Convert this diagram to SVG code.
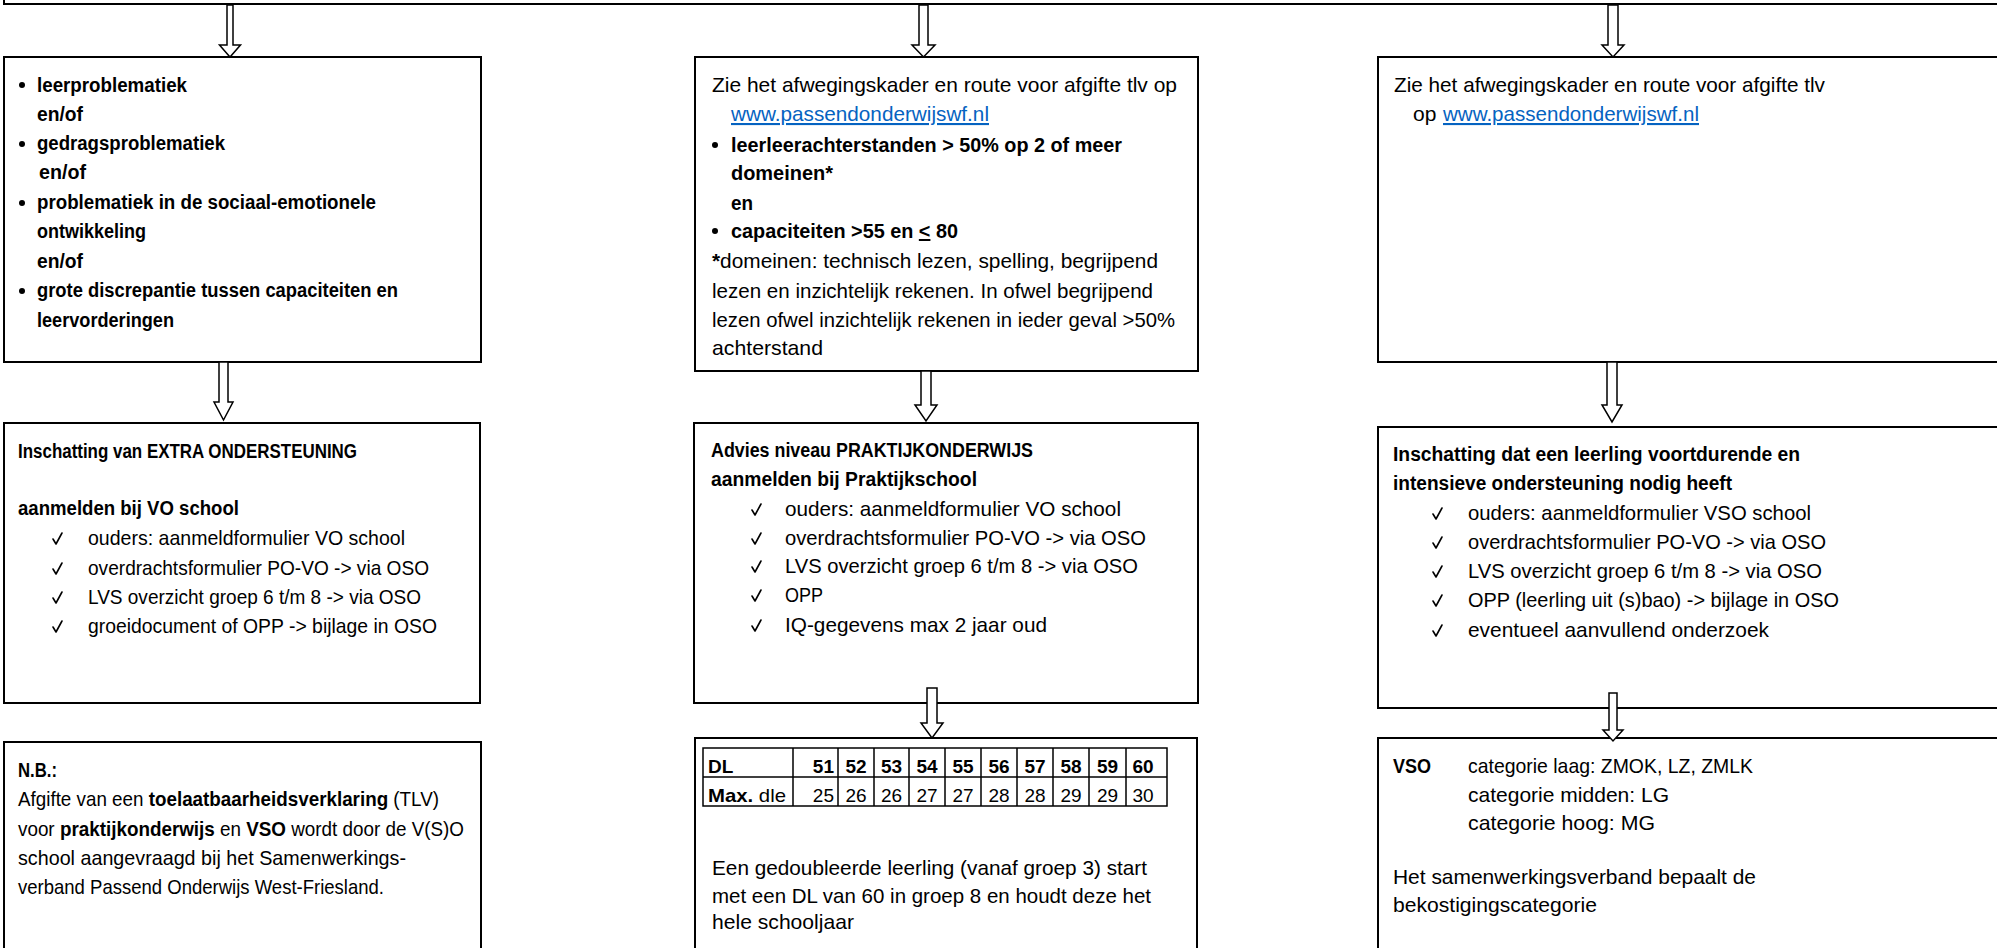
<svg xmlns="http://www.w3.org/2000/svg" width="1997" height="948" viewBox="0 0 1997 948">
<style>
.box{fill:#fff;stroke:#000;stroke-width:2}
.arr{fill:#fff;stroke:#000;stroke-width:1.5;stroke-linejoin:miter}
text{font-family:"Liberation Sans",Arial,sans-serif;fill:#000}
.r{font-size:21px}
.b{font-size:20px;font-weight:bold}
.bt{font-weight:bold}
.chk{fill:none;stroke:#000;stroke-width:1.6;stroke-linecap:round;stroke-linejoin:round}
.lnk{fill:#0563C1;text-decoration:underline}
.tbl{fill:none;stroke:#000;stroke-width:1.5}
.num{font-size:19px}
</style>
<defs>
<path id="ck" class="chk" d="M0 -6 L3 -1 L9 -12"/>
</defs>
<rect width="1997" height="948" fill="#fff"/>
<g id="top-box"><rect class="box" x="4" y="-20" width="2010" height="24"/></g>

<g id="box1">
<rect class="box" x="4" y="57" width="477" height="305"/>
<circle cx="22" cy="85" r="3"/><circle cx="22" cy="144" r="3"/><circle cx="22" cy="203" r="3"/><circle cx="22" cy="291" r="3"/>
<text class="b" x="37" y="92" textLength="150" lengthAdjust="spacingAndGlyphs">leerproblematiek</text>
<text class="b" x="37" y="121" textLength="46" lengthAdjust="spacingAndGlyphs">en/of</text>
<text class="b" x="37" y="150" textLength="188" lengthAdjust="spacingAndGlyphs">gedragsproblematiek</text>
<text class="b" x="39" y="179" textLength="47" lengthAdjust="spacingAndGlyphs">en/of</text>
<text class="b" x="37" y="209" textLength="339" lengthAdjust="spacingAndGlyphs">problematiek in de sociaal-emotionele</text>
<text class="b" x="37" y="238" textLength="109" lengthAdjust="spacingAndGlyphs">ontwikkeling</text>
<text class="b" x="37" y="268" textLength="46" lengthAdjust="spacingAndGlyphs">en/of</text>
<text class="b" x="37" y="297" textLength="361" lengthAdjust="spacingAndGlyphs">grote discrepantie tussen capaciteiten en</text>
<text class="b" x="37" y="327" textLength="137" lengthAdjust="spacingAndGlyphs">leervorderingen</text>
</g>

<g id="box2">
<rect class="box" x="695" y="57" width="503" height="314"/>
<circle cx="715" cy="145" r="3"/><circle cx="715" cy="231" r="3"/>
<text class="r" x="712" y="92" textLength="465" lengthAdjust="spacingAndGlyphs">Zie het afwegingskader en route voor afgifte tlv op</text>
<text class="r lnk" x="731" y="121" textLength="258" lengthAdjust="spacingAndGlyphs">www.passendonderwijswf.nl</text>
<text class="b" x="731" y="152" textLength="391" lengthAdjust="spacingAndGlyphs">leerleerachterstanden  &gt; 50% op 2 of meer</text>
<text class="b" x="731" y="180" textLength="102" lengthAdjust="spacingAndGlyphs">domeinen*</text>
<text class="b" x="731" y="210" textLength="22" lengthAdjust="spacingAndGlyphs">en</text>
<text class="b" x="731" y="238" textLength="227" lengthAdjust="spacingAndGlyphs">capaciteiten &gt;55 en <tspan text-decoration="underline">&lt;</tspan> 80</text>
<text class="r" x="712" y="268" textLength="446" lengthAdjust="spacingAndGlyphs"><tspan class="bt">*</tspan>domeinen: technisch lezen, spelling, begrijpend</text>
<text class="r" x="712" y="298" textLength="441" lengthAdjust="spacingAndGlyphs">lezen en inzichtelijk rekenen. In ofwel begrijpend</text>
<text class="r" x="712" y="327" textLength="463" lengthAdjust="spacingAndGlyphs">lezen ofwel inzichtelijk rekenen in ieder geval &gt;50%</text>
<text class="r" x="712" y="355" textLength="111" lengthAdjust="spacingAndGlyphs">achterstand</text>
</g>

<g id="box3">
<rect class="box" x="1378" y="57" width="700" height="305"/>
<text class="r" x="1394" y="92" textLength="431" lengthAdjust="spacingAndGlyphs">Zie het afwegingskader en route voor afgifte tlv</text>
<text class="r" x="1413" y="121">op</text>
<text class="r lnk" x="1443" y="121" textLength="256" lengthAdjust="spacingAndGlyphs">www.passendonderwijswf.nl</text>
</g>

<g id="box4">
<rect class="box" x="4" y="423" width="476" height="280"/>
<text class="b" x="18" y="458" textLength="339" lengthAdjust="spacingAndGlyphs">Inschatting van EXTRA ONDERSTEUNING</text>
<text class="b" x="18" y="515" textLength="221" lengthAdjust="spacingAndGlyphs">aanmelden bij VO school</text>
<use href="#ck" x="53" y="545"/><use href="#ck" x="53" y="575"/><use href="#ck" x="53" y="604"/><use href="#ck" x="53" y="633"/>
<text class="r" x="88" y="545" textLength="317" lengthAdjust="spacingAndGlyphs">ouders: aanmeldformulier VO school</text>
<text class="r" x="88" y="575" textLength="341" lengthAdjust="spacingAndGlyphs">overdrachtsformulier PO-VO -&gt; via OSO</text>
<text class="r" x="88" y="604" textLength="333" lengthAdjust="spacingAndGlyphs">LVS overzicht groep 6 t/m 8 -&gt; via OSO</text>
<text class="r" x="88" y="633" textLength="349" lengthAdjust="spacingAndGlyphs">groeidocument of OPP -&gt; bijlage in OSO</text>
</g>

<g id="box5">
<rect class="box" x="694" y="423" width="504" height="280"/>
<text class="b" x="711" y="457" textLength="322" lengthAdjust="spacingAndGlyphs">Advies niveau PRAKTIJKONDERWIJS</text>
<text class="b" x="711" y="486" textLength="266" lengthAdjust="spacingAndGlyphs">aanmelden bij Praktijkschool</text>
<use href="#ck" x="752" y="516"/><use href="#ck" x="752" y="545"/><use href="#ck" x="752" y="573"/><use href="#ck" x="752" y="602"/><use href="#ck" x="752" y="632"/>
<text class="r" x="785" y="516" textLength="336" lengthAdjust="spacingAndGlyphs">ouders: aanmeldformulier VO school</text>
<text class="r" x="785" y="545" textLength="361" lengthAdjust="spacingAndGlyphs">overdrachtsformulier PO-VO -&gt; via OSO</text>
<text class="r" x="785" y="573" textLength="353" lengthAdjust="spacingAndGlyphs">LVS overzicht groep 6 t/m 8 -&gt; via OSO</text>
<text class="r" x="785" y="602" textLength="38" lengthAdjust="spacingAndGlyphs">OPP</text>
<text class="r" x="785" y="632" textLength="262" lengthAdjust="spacingAndGlyphs">IQ-gegevens max 2 jaar oud</text>
</g>

<g id="box6">
<rect class="box" x="1378" y="427" width="700" height="281"/>
<text class="b" x="1393" y="461" textLength="407" lengthAdjust="spacingAndGlyphs">Inschatting dat een leerling voortdurende en</text>
<text class="b" x="1393" y="490" textLength="339" lengthAdjust="spacingAndGlyphs">intensieve ondersteuning nodig heeft</text>
<use href="#ck" x="1433" y="520"/><use href="#ck" x="1433" y="549"/><use href="#ck" x="1433" y="578"/><use href="#ck" x="1433" y="607"/><use href="#ck" x="1433" y="637"/>
<text class="r" x="1468" y="520" textLength="343" lengthAdjust="spacingAndGlyphs">ouders: aanmeldformulier VSO school</text>
<text class="r" x="1468" y="549" textLength="358" lengthAdjust="spacingAndGlyphs">overdrachtsformulier PO-VO -&gt; via OSO</text>
<text class="r" x="1468" y="578" textLength="354" lengthAdjust="spacingAndGlyphs">LVS overzicht groep  6 t/m 8 -&gt; via OSO</text>
<text class="r" x="1468" y="607" textLength="371" lengthAdjust="spacingAndGlyphs">OPP (leerling uit (s)bao) -&gt; bijlage in OSO</text>
<text class="r" x="1468" y="637" textLength="301" lengthAdjust="spacingAndGlyphs">eventueel aanvullend onderzoek</text>
</g>

<g id="box7">
<rect class="box" x="4" y="742" width="477" height="260"/>
<text class="b" x="18" y="777" textLength="39" lengthAdjust="spacingAndGlyphs">N.B.:</text>
<text class="r" x="18" y="806" textLength="421" lengthAdjust="spacingAndGlyphs">Afgifte van een <tspan class="bt">toelaatbaarheidsverklaring</tspan> (TLV)</text>
<text class="r" x="18" y="836" textLength="446" lengthAdjust="spacingAndGlyphs">voor <tspan class="bt">praktijkonderwijs</tspan> en <tspan class="bt">VSO</tspan> wordt door de V(S)O</text>
<text class="r" x="18" y="865" textLength="388" lengthAdjust="spacingAndGlyphs">school aangevraagd bij het Samenwerkings-</text>
<text class="r" x="18" y="894" textLength="366" lengthAdjust="spacingAndGlyphs">verband Passend Onderwijs West-Friesland.</text>
</g>

<g id="box8">
<rect class="box" x="695" y="738" width="502" height="260"/>
<rect class="tbl" x="703" y="748" width="464" height="58"/>
<line class="tbl" x1="703" y1="777" x2="1167" y2="777"/>
<path class="tbl" d="M793 748V806M838 748V806M874 748V806M909 748V806M945 748V806M981 748V806M1017 748V806M1053 748V806M1089 748V806M1126 748V806"/>
<text class="num bt" x="708" y="773">DL</text>
<text class="num bt" x="834" y="773" text-anchor="end">51</text>
<text class="num bt" x="856" y="773" text-anchor="middle">52</text><text class="num bt" x="891.5" y="773" text-anchor="middle">53</text><text class="num bt" x="927" y="773" text-anchor="middle">54</text><text class="num bt" x="963" y="773" text-anchor="middle">55</text><text class="num bt" x="999" y="773" text-anchor="middle">56</text><text class="num bt" x="1035" y="773" text-anchor="middle">57</text><text class="num bt" x="1071" y="773" text-anchor="middle">58</text><text class="num bt" x="1107.5" y="773" text-anchor="middle">59</text><text class="num bt" x="1143" y="773" text-anchor="middle">60</text>
<text class="num" x="708" y="802" textLength="78" lengthAdjust="spacingAndGlyphs"><tspan class="bt">Max.</tspan> dle</text>
<text class="num" x="834" y="802" text-anchor="end">25</text>
<text class="num" x="856" y="802" text-anchor="middle">26</text><text class="num" x="891.5" y="802" text-anchor="middle">26</text><text class="num" x="927" y="802" text-anchor="middle">27</text><text class="num" x="963" y="802" text-anchor="middle">27</text><text class="num" x="999" y="802" text-anchor="middle">28</text><text class="num" x="1035" y="802" text-anchor="middle">28</text><text class="num" x="1071" y="802" text-anchor="middle">29</text><text class="num" x="1107.5" y="802" text-anchor="middle">29</text><text class="num" x="1143" y="802" text-anchor="middle">30</text>
<text class="r" x="712" y="875" textLength="435" lengthAdjust="spacingAndGlyphs">Een gedoubleerde leerling (vanaf groep 3) start</text>
<text class="r" x="712" y="903" textLength="439" lengthAdjust="spacingAndGlyphs">met een DL van 60 in groep 8 en houdt deze het</text>
<text class="r" x="712" y="929" textLength="142" lengthAdjust="spacingAndGlyphs">hele schooljaar</text>
</g>

<g id="box9">
<rect class="box" x="1378" y="738" width="700" height="260"/>
<text class="b" x="1393" y="773" textLength="38" lengthAdjust="spacingAndGlyphs">VSO</text>
<text class="r" x="1468" y="773" textLength="285" lengthAdjust="spacingAndGlyphs">categorie laag: ZMOK, LZ, ZMLK</text>
<text class="r" x="1468" y="802" textLength="201" lengthAdjust="spacingAndGlyphs">categorie midden: LG</text>
<text class="r" x="1468" y="830" textLength="187" lengthAdjust="spacingAndGlyphs">categorie hoog: MG</text>
<text class="r" x="1393" y="884" textLength="363" lengthAdjust="spacingAndGlyphs">Het samenwerkingsverband bepaalt de</text>
<text class="r" x="1393" y="912" textLength="204" lengthAdjust="spacingAndGlyphs">bekostigingscategorie</text>
</g>

<g id="connectors">
<polygon class="arr" points="227,5 233,5 233,45 240.5,45 230,57 219.5,45 227,45"/>
<polygon class="arr" points="919,5 928,5 928,45 935,45 923.5,57 912,45 919,45"/>
<polygon class="arr" points="1608,5 1618,5 1618,45 1624,45 1613,57 1602,45 1608,45"/>
<polygon class="arr" points="219,362 228,362 228,402 233,402 223.5,420 214,402 219,402"/>
<polygon class="arr" points="921,371 931,371 931,405 937,405 926,421 915,405 921,405"/>
<polygon class="arr" points="1607,362 1617,362 1617,405 1622,405 1612,422 1602,405 1607,405"/>
<polygon class="arr" points="927,688 937,688 937,723 943,723 932,738 921,723 927,723"/>
<polygon class="arr" points="1609,693 1617,693 1617,730 1623,730 1613,741 1603,730 1609,730"/>
</g>
</svg>
